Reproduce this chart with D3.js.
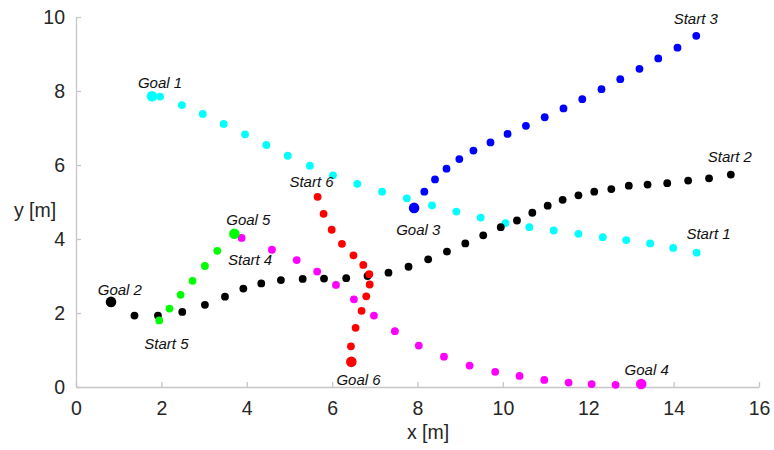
<!DOCTYPE html>
<html><head><meta charset="utf-8">
<script src="https://cdn.jsdelivr.net/npm/d3@7"></script>
<style>body{margin:0;background:#fff}</style>
</head><body>
<svg id="c" width="774" height="450"></svg>
<script>
// Trajectory 1 (cyan): start -> goal
const t1x = [14.54,13.99,13.45,12.89,12.34,11.77,11.19,10.62,10.06,9.48,8.91,8.34,7.75,7.17,6.59,6.02,5.48,4.96,4.46,3.96,3.46,2.97,2.48,1.97,1.78];
const t1y = [3.63,3.76,3.88,3.97,4.05,4.14,4.23,4.32,4.43,4.58,4.74,4.91,5.10,5.28,5.49,5.72,5.98,6.25,6.54,6.83,7.11,7.38,7.62,7.85,7.86];
// Trajectory 2 (black)
const t2x = [15.34,14.83,14.34,13.85,13.39,12.95,12.54,12.14,11.77,11.40,11.05,10.69,10.33,9.95,9.54,9.12,8.69,8.25,7.79,7.32,6.83,6.33,5.81,5.31,4.80,4.34,3.92,3.49,3.02,2.49,1.92,1.37,0.82];
const t2y = [5.74,5.64,5.58,5.51,5.47,5.44,5.35,5.28,5.18,5.06,4.90,4.71,4.50,4.32,4.10,3.88,3.66,3.45,3.25,3.09,3.00,2.94,2.93,2.92,2.89,2.80,2.66,2.44,2.22,2.03,1.93,1.93,2.30];
// Trajectory 3 (blue)
const t3x = [14.53,14.09,13.64,13.20,12.75,12.31,11.86,11.42,10.98,10.54,10.11,9.71,9.31,8.98,8.68,8.41,8.16,7.92];
const t3y = [9.49,9.17,8.88,8.60,8.32,8.05,7.78,7.53,7.29,7.06,6.84,6.61,6.39,6.16,5.90,5.61,5.28,4.84];
// Trajectory 4 (magenta)
const t4x = [3.88,4.59,5.17,5.65,6.09,6.51,6.98,7.47,8.03,8.62,9.22,9.82,10.39,10.97,11.54,12.08,12.64,13.24];
const t4y = [4.03,3.71,3.43,3.12,2.76,2.37,1.93,1.51,1.12,0.82,0.58,0.41,0.30,0.19,0.12,0.08,0.06,0.08];
// Trajectory 5 (green)
const t5x = [1.95,2.19,2.45,2.73,3.02,3.31,3.71];
const t5y = [1.80,2.12,2.49,2.87,3.27,3.68,4.14];
// Trajectory 6 (red)
const t6x = [5.66,5.80,5.99,6.23,6.50,6.73,6.87,6.88,6.80,6.69,6.55,6.44,6.45];
const t6y = [5.14,4.68,4.25,3.87,3.56,3.30,3.05,2.77,2.45,2.06,1.60,1.10,0.68];

const colors = ["#00ffff","#000000","#0000ff","#ff00ff","#00ff00","#ff0000"];
const xTicks = [0,2,4,6,8,10,12,14,16];
const yTicks = [0,2,4,6,8,10];

const labelText = ["Goal 1","Start 1","Goal 2","Start 2","Goal 3","Start 3","Goal 4","Start 4","Goal 5","Start 5","Goal 6","Start 6"];
const labelX = [1.45,14.3,0.51,14.8,7.5,14.0,12.85,3.56,3.52,1.6,6.1,5.0];
const labelY = [8.07,4.0,2.5,6.07,4.1,9.82,0.33,3.3,4.38,1.02,0.06,5.4];

const svg = d3.select("#c");
const x = d3.scaleLinear().domain([0,16]).range([76,759]);
const y = d3.scaleLinear().domain([0,10]).range([387,17]);

const axisCol = "#c6c6c6";
const gx = svg.append("g").attr("transform","translate(0,387)")
  .call(d3.axisBottom(x).tickValues(xTicks).tickSizeInner(-5).tickSizeOuter(0).tickPadding(12));
const gy = svg.append("g").attr("transform","translate(76,0)")
  .call(d3.axisLeft(y).tickValues(yTicks).tickSizeInner(-5).tickSizeOuter(0).tickPadding(11));
[gx,gy].forEach(g=>{
  g.select(".domain").attr("stroke",axisCol).attr("stroke-width",1.3);
  g.selectAll(".tick line").attr("stroke",axisCol).attr("stroke-width",1.3);
  g.selectAll("text").attr("fill","#262626").style("font-family","'Liberation Sans',Arial,sans-serif").style("font-size","19.5px");
});
gx.selectAll("text").attr("dy","0.71em").attr("y",14.5);

svg.append("text").attr("x",428).attr("y",439).attr("text-anchor","middle")
  .style("font-family","'Liberation Sans',Arial,sans-serif").style("font-size","19.5px").attr("fill","#262626").text("x [m]");
svg.append("text").attr("x",35).attr("y",217).attr("text-anchor","middle")
  .style("font-family","'Liberation Sans',Arial,sans-serif").style("font-size","19.5px").attr("fill","#262626").text("y [m]");

const series = [[t1x,t1y],[t2x,t2y],[t3x,t3y],[t4x,t4y],[t5x,t5y],[t6x,t6y]];
series.forEach((s,i)=>{
  const pts = s[0].map((v,j)=>({x:v,y:s[1][j],goal:j===s[0].length-1}));
  svg.append("g").selectAll("circle").data(pts).join("circle")
    .attr("cx",d=>x(d.x)).attr("cy",d=>y(d.y))
    .attr("r",d=>d.goal?5.3:3.9)
    .attr("fill",colors[i]);
});

svg.append("g").selectAll("text").data(labelText).join("text")
  .attr("x",(d,i)=>x(labelX[i])).attr("y",(d,i)=>y(labelY[i]))
  .style("font-family","'Liberation Sans',Arial,sans-serif").style("font-size","15px").style("font-style","italic")
  .attr("fill","#111").text(d=>d);
</script>
</body></html>
